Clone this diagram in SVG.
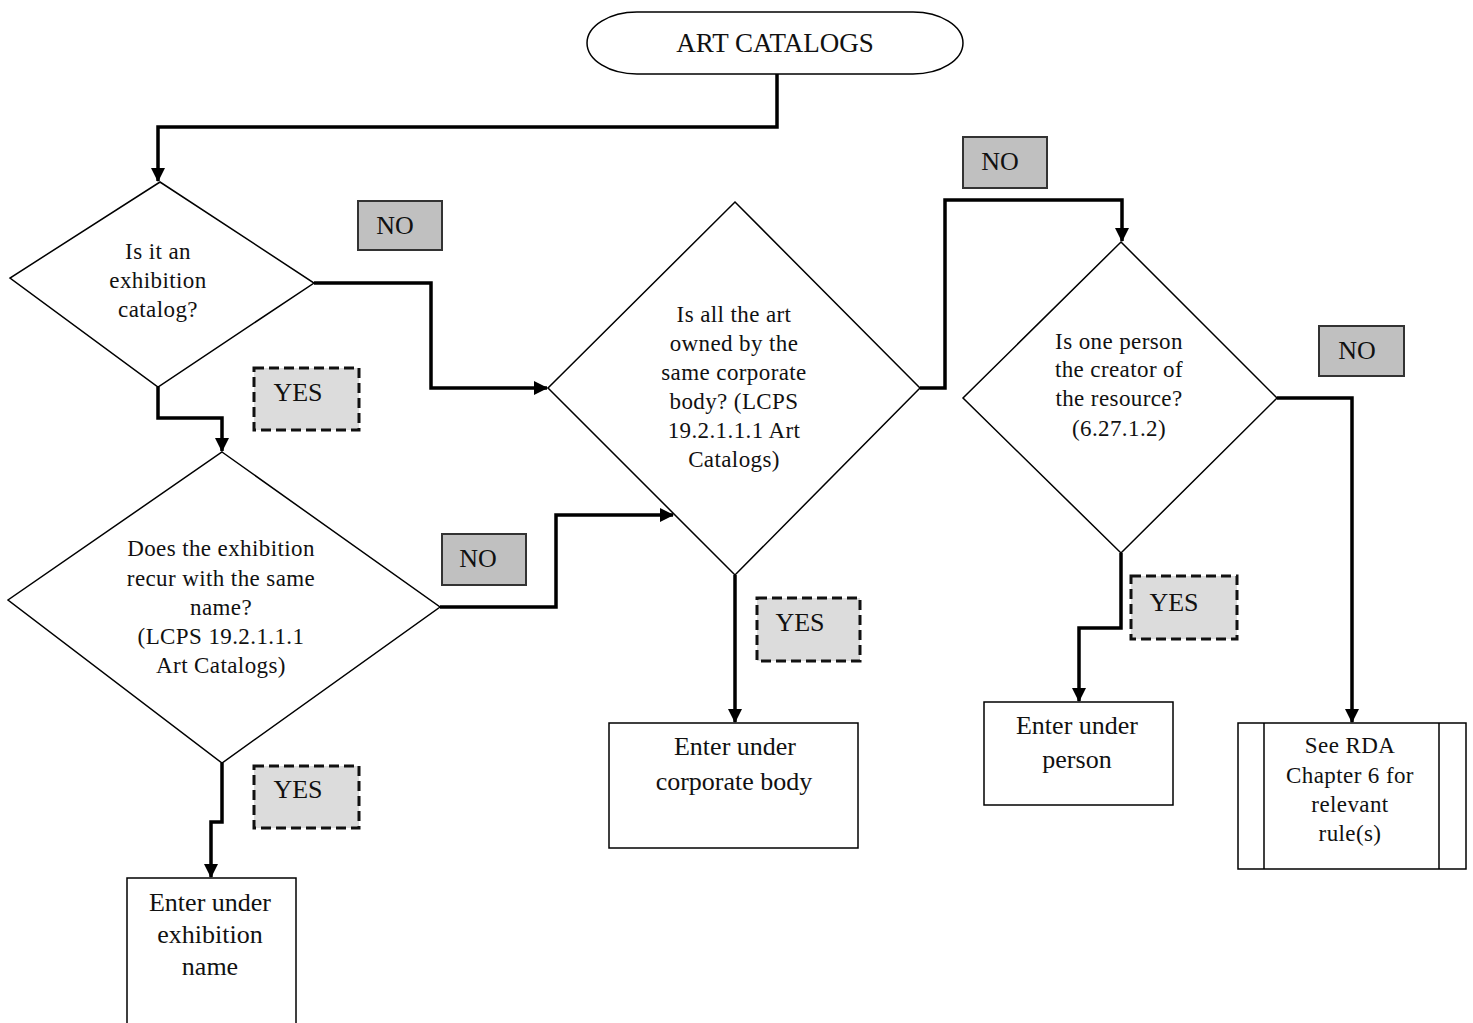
<svg xmlns="http://www.w3.org/2000/svg" width="1473" height="1023" viewBox="0 0 1473 1023">
<defs>
<marker id="ah" markerWidth="14" markerHeight="14" refX="13" refY="7" orient="auto" markerUnits="userSpaceOnUse" viewBox="0 0 14 14">
<path d="M0,0 L14,7 L0,14 z" fill="#000"/>
</marker>
<style>
.shape{fill:#fff;stroke:#000;stroke-width:1.5}
.no{fill:#c0c0c0;stroke:#333;stroke-width:2}
.yes{fill:#dcdcdc;stroke:#111;stroke-width:3;stroke-dasharray:10,5}
.conn{fill:none;stroke:#000;stroke-width:3.5;marker-end:url(#ah)}
text{font-family:"Liberation Serif","Times New Roman",serif;fill:#111;text-anchor:middle;dominant-baseline:central}
.q{font-size:23px;letter-spacing:0.4px}
.b{font-size:26px}
.lbl{font-size:26px}
</style>
</defs>
<rect width="1473" height="1023" fill="#fff"/>

<g id="connectors">
<path class="conn" d="M777,74 V127 H158 V181"/>
<path class="conn" d="M314,283 H431 V388 H547"/>
<path class="conn" d="M158,387 V418 H222 V451"/>
<path class="conn" d="M440,607 H556 V515 H673"/>
<path class="conn" d="M735,575 V722"/>
<path class="conn" d="M920,388 H945 V200 H1122 V241"/>
<path class="conn" d="M1277,398 H1352 V722"/>
<path class="conn" d="M1121,553 V628 H1079 V701"/>
<path class="conn" d="M222,763 V822 H211 V877"/>
</g>

<g id="start">
<path class="shape" d="M637,12 H913 A50,31 0 0 1 913,74 H637 A50,31 0 0 1 637,12 Z"/>
<text x="775" y="43" style="font-size:27px">ART CATALOGS</text>
</g>

<g id="q1">
<polygon class="shape" points="160,182 314,283 158,387 10,278"/>
<text class="q" x="158" y="251">Is it an</text>
<text class="q" x="158" y="280">exhibition</text>
<text class="q" x="158" y="309">catalog?</text>
</g>

<g id="q2">
<polygon class="shape" points="222,452 440,607 222,763 8,600"/>
<text class="q" x="221" y="548">Does the exhibition</text>
<text class="q" x="221" y="578">recur with the same</text>
<text class="q" x="221" y="607">name?</text>
<text class="q" x="221" y="636">(LCPS 19.2.1.1.1</text>
<text class="q" x="221" y="665">Art Catalogs)</text>
</g>

<g id="q3">
<polygon class="shape" points="735,202 920,388 735,575 548,388"/>
<text class="q" x="734" y="314">Is all the art</text>
<text class="q" x="734" y="343">owned by the</text>
<text class="q" x="734" y="372">same corporate</text>
<text class="q" x="734" y="401">body? (LCPS</text>
<text class="q" x="734" y="430">19.2.1.1.1 Art</text>
<text class="q" x="734" y="459">Catalogs)</text>
</g>

<g id="q4">
<polygon class="shape" points="1121,242 1277,398 1121,553 963,398"/>
<text class="q" x="1119" y="341">Is one person</text>
<text class="q" x="1119" y="369">the creator of</text>
<text class="q" x="1119" y="398">the resource?</text>
<text class="q" x="1119" y="428">(6.27.1.2)</text>
</g>

<g id="no1"><rect class="no" x="358" y="201" width="84" height="49"/><text class="lbl" x="395" y="225">NO</text></g>
<g id="no2"><rect class="no" x="442" y="534" width="84" height="51"/><text class="lbl" x="478" y="558">NO</text></g>
<g id="no3"><rect class="no" x="963" y="137" width="84" height="51"/><text class="lbl" x="1000" y="161">NO</text></g>
<g id="no4"><rect class="no" x="1319" y="326" width="85" height="50"/><text class="lbl" x="1357" y="350">NO</text></g>

<g id="yes1"><rect class="yes" x="254" y="368" width="105" height="62"/><text class="lbl" x="298" y="392">YES</text></g>
<g id="yes2"><rect class="yes" x="254" y="766" width="105" height="62"/><text class="lbl" x="298" y="789">YES</text></g>
<g id="yes3"><rect class="yes" x="757" y="598" width="103" height="63"/><text class="lbl" x="800" y="622">YES</text></g>
<g id="yes4"><rect class="yes" x="1131" y="576" width="106" height="63"/><text class="lbl" x="1174" y="602">YES</text></g>

<g id="exhibition">
<rect class="shape" x="127" y="878" width="169" height="146"/>
<text class="b" x="210" y="902">Enter under</text>
<text class="b" x="210" y="934">exhibition</text>
<text class="b" x="210" y="966">name</text>
</g>

<g id="corporate">
<rect class="shape" x="609" y="723" width="249" height="125"/>
<text class="b" x="735" y="746">Enter under</text>
<text class="b" x="734" y="781">corporate body</text>
</g>

<g id="person">
<rect class="shape" x="984" y="702" width="189" height="103"/>
<text class="b" x="1077" y="725">Enter under</text>
<text class="b" x="1077" y="759">person</text>
</g>

<g id="rda">
<rect class="shape" x="1238" y="723" width="228" height="146"/>
<line x1="1264" y1="723" x2="1264" y2="869" stroke="#000" stroke-width="1.5"/>
<line x1="1439" y1="723" x2="1439" y2="869" stroke="#000" stroke-width="1.5"/>
<text class="q" x="1350" y="745">See RDA</text>
<text class="q" x="1350" y="775">Chapter 6 for</text>
<text class="q" x="1350" y="804">relevant</text>
<text class="q" x="1350" y="833">rule(s)</text>
</g>
</svg>
